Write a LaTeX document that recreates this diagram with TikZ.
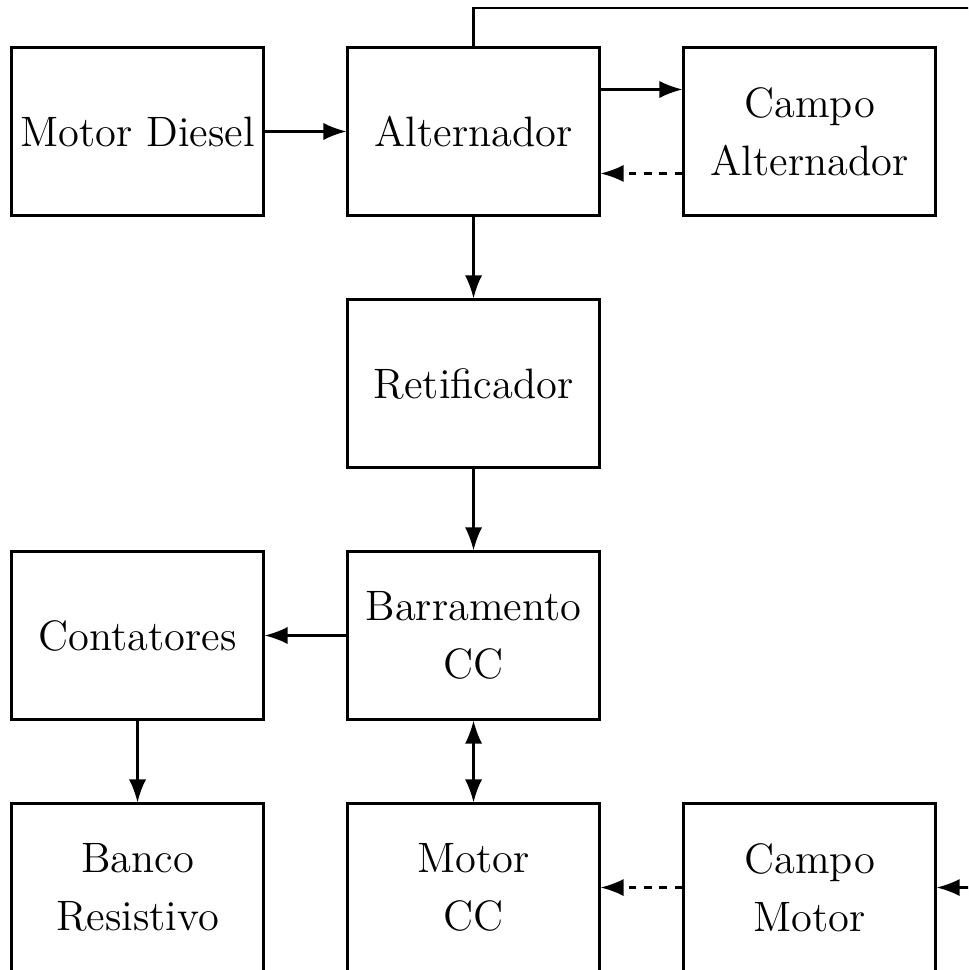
\documentclass[tikz,border=0pt]{standalone}
\usetikzlibrary{arrows.meta}
\begin{document}
\begin{tikzpicture}[
  blockbox/.style={draw, line width=0.72pt, minimum width=3cm, minimum height=2cm,
    align=center, inner sep=0pt, font=\fontsize{14.4pt}{19.6pt}\selectfont},
  link/.style={line width=0.72pt, -{Latex[length=7.8pt,width=5.8pt]}},
  duallink/.style={line width=0.72pt, {Latex[length=7.8pt,width=5.8pt]}-{Latex[length=7.8pt,width=5.8pt]}},
  fieldlink/.style={link, dash pattern=on 2.6pt off 2.6pt}
]
\useasboundingbox (-1.637,1.565) rectangle (9.887,-9.982);
\clip (-1.637,1.565) rectangle (9.887,-9.982);

% generator chain
\node[blockbox] (diesel) at (0,0) {Motor Diesel};
\node[blockbox] (alt) at (4,0) {Alternador};
\node[blockbox] (campoalt) at (8,0) {Campo\\Alternador};
\node[blockbox] (ret) at (4,-3) {Retificador};
\node[blockbox] (bus) at (4,-6) {Barramento\\CC};
\node[blockbox] (cont) at (0,-6) {Contatores};
\node[blockbox] (banco) at (0,-9) {Banco\\Resistivo};
\node[blockbox] (motor) at (4,-9) {Motor\\CC};
\node[blockbox] (campomot) at (8,-9) {Campo\\Motor};

% power flow
\draw[link] (diesel) -- (alt);
\draw[link] ([yshift=0.5cm]alt.east) -- ([yshift=0.5cm]campoalt.west);
\draw[fieldlink] ([yshift=-0.5cm]campoalt.west) -- ([yshift=-0.5cm]alt.east);
\draw[link] (alt) -- (ret);
\draw[link] (ret) -- (bus);
\draw[link] (bus) -- (cont);
\draw[link] (cont) -- (banco);
\draw[duallink] (bus) -- (motor);
\draw[fieldlink] (campomot) -- (motor);

% feedback from alternator to motor field
\coordinate (fbtop) at (10.2,1.47);
\draw[link] (alt.north) |- (fbtop) |- (campomot.east);
\end{tikzpicture}
\end{document}
